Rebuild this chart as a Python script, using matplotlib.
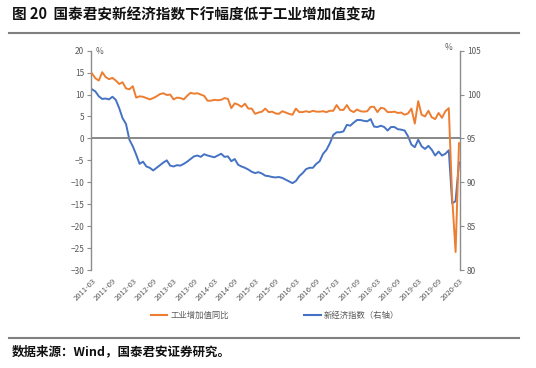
import numpy as np
import pandas as pd
import matplotlib
matplotlib.use("Agg")
import matplotlib.pyplot as plt
from matplotlib.lines import Line2D

plt.rcParams['font.family'] = ['Noto Sans CJK SC', 'DejaVu Sans']

# monthly, 2011-03 .. 2020-03
ip_yoy = [
    14.8, 13.7, 13.2, 15.1, 14.0, 13.5, 13.8, 13.2, 12.4, 12.8, 11.4, 11.2,
    11.9, 9.3, 9.6, 9.5, 9.2, 8.9, 9.2, 9.6, 10.1, 10.3, 9.9, 10.0,
    8.9, 9.3, 9.2, 8.9, 9.7, 10.4, 10.2, 10.3, 10.0, 9.7, 8.6, 8.6,
    8.8, 8.7, 8.8, 9.2, 9.0, 6.9, 8.0, 7.7, 7.2, 7.9, 6.8, 6.8,
    5.6, 5.9, 6.1, 6.8, 6.0, 6.1, 5.7, 5.6, 6.2, 5.9, 5.6, 5.4,
    6.8, 6.0, 6.0, 6.2, 6.0, 6.3, 6.1, 6.1, 6.2, 6.0, 6.3, 6.3,
    7.6, 6.5, 6.5, 7.6, 6.4, 6.0, 6.6, 6.2, 6.1, 6.2, 7.2, 7.2,
    6.0, 7.0, 6.8, 6.0, 6.0, 6.1, 5.8, 5.9, 5.4, 5.7, 6.8, 3.4,
    8.5, 5.4, 5.0, 6.3, 4.8, 4.4, 5.8, 4.7, 6.2, 6.9, -13.5, -25.9,
    -1.1,
]

new_econ = [
    100.6, 100.35, 99.8, 99.5, 99.55, 99.45, 99.75, 99.4, 98.45, 97.3, 96.65, 94.85,
    94.1, 93.15, 92.1, 92.35, 91.8, 91.65, 91.35, 91.65, 91.95, 92.25, 92.5, 91.9,
    91.8, 91.95, 91.9, 92.1, 92.35, 92.65, 92.95, 93.05, 92.9, 93.2, 93.05, 92.95,
    92.85, 93.05, 93.25, 92.9, 92.95, 92.4, 92.65, 92.0, 91.8, 91.65, 91.45, 91.2,
    91.05, 91.15, 91.0, 90.75, 90.7, 90.6, 90.55, 90.6, 90.5, 90.3, 90.1, 89.9,
    90.15, 90.7, 91.05, 91.5, 91.65, 91.65, 92.1, 92.4, 93.25, 93.7, 94.45, 95.4,
    95.7, 95.7, 95.8, 96.55, 96.45, 96.8, 97.1, 97.1, 97.0, 96.95, 97.2, 96.35,
    96.3, 96.45, 96.3, 95.9, 96.3, 96.3, 96.05, 96.0, 95.9, 95.25, 94.3, 94.0,
    94.85, 94.1, 93.8, 94.15, 93.7, 93.05, 93.5, 93.05, 93.25, 93.65, 87.6, 87.85,
    92.25,
]

dates = pd.date_range('2011-03-01', periods=len(ip_yoy), freq='MS')
tick_labels = [d.strftime('%Y-%m') for d in dates[::6]]

orange = '#ED7D31'
blue = '#4472C4'
gray = '#595959'

fig = plt.figure(figsize=(5.36, 3.68), dpi=100)
W, H = 536, 368

ax = fig.add_axes([91 / W, 1 - 270 / H, (460 - 91) / W, (270 - 50.7) / H])
ax2 = ax.twinx()

x = np.arange(len(ip_yoy))
ax2.plot(x, new_econ, color=blue, lw=1.4, zorder=3)
ax.plot(x, ip_yoy, color=orange, lw=1.4, zorder=3)
ax.set_zorder(ax2.get_zorder() + 1)
ax.patch.set_visible(False)

ax.axhline(0, color='#7F7F7F', lw=1.3, zorder=2)

ax.set_xlim(-0.3, len(x) - 1 + 0.3)
ax.set_ylim(-30, 20)
ax.set_yticks(np.arange(-30, 21, 5))
ax2.set_ylim(80, 105)
ax2.set_yticks(np.arange(80, 106, 5))

ax.set_xticks(x[::6])
ax.set_xticklabels(tick_labels, rotation=45, ha='right', rotation_mode='anchor',
                   fontsize=5.5, color=gray)
ax.tick_params(axis='x', length=0, pad=5)

for a in (ax, ax2):
    for s in ('top', 'bottom'):
        a.spines[s].set_visible(False)
    a.tick_params(axis='y', length=3, width=0.8, color='#8C8C8C',
                  labelsize=6, labelcolor=gray, pad=2)
ax.spines['left'].set_color('#8C8C8C')
ax.spines['left'].set_linewidth(1.0)
ax.spines['right'].set_visible(False)
ax2.spines['left'].set_visible(False)
ax2.spines['right'].set_color('#8C8C8C')
ax2.spines['right'].set_linewidth(1.0)

fig.text(96 / W, 1 - 52 / H, '%', fontsize=6, color=gray, va='center', ha='left')
fig.text(452 / W, 1 - 48 / H, '%', fontsize=6, color=gray, va='center', ha='right')

# legend
handles = [Line2D([], [], color=orange, lw=1.5),
           Line2D([], [], color=blue, lw=1.5)]
fig.legend(handles, ['工业增加值同比', '新经济指数（右轴）'],
           loc='center', bbox_to_anchor=(275 / W, 1 - 315 / H), ncol=2, frameon=False,
           fontsize=6, labelcolor=gray, handlelength=2.0, handletextpad=0.4,
           columnspacing=9)

# title, rules, source
fig.text(12 / W, 1 - 15 / H, '图 20  国泰君安新经济指数下行幅度低于工业增加值变动',
         fontsize=10.5, fontweight='bold', va='center', ha='left', color='#111111')
fig.add_artist(Line2D([9 / W, 519 / W], [1 - 33 / H, 1 - 33 / H], color='#808080', lw=1.5))
fig.add_artist(Line2D([9 / W, 519 / W], [1 - 338 / H, 1 - 338 / H], color='#808080', lw=1.5))
fig.text(12 / W, 1 - 352 / H, '数据来源：Wind，国泰君安证券研究。',
         fontsize=9, fontweight='bold', va='center', ha='left', color='#111111')

fig.savefig('out.png', dpi=100)
